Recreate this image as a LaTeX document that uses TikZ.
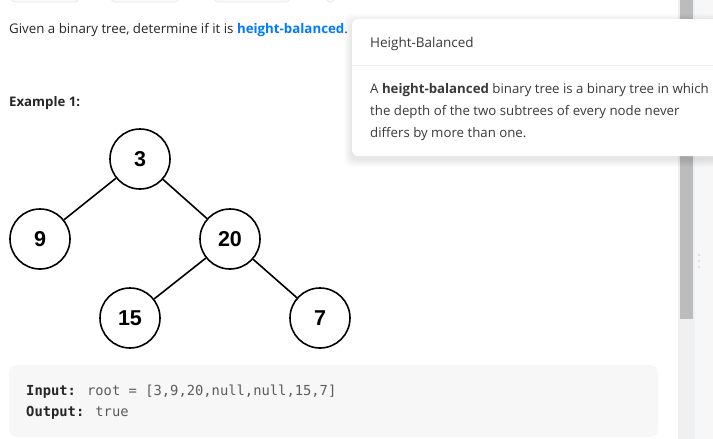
\documentclass[tikz,border=0pt]{standalone}
\usepackage{fontspec}
\setmainfont{Open Sans}
\newfontfamily\treefont{Liberation Sans}
\newfontfamily\codefont{DejaVu Sans Mono}
\definecolor{txtdark}{HTML}{262626}
\definecolor{linkblue}{HTML}{007AFF}
\definecolor{popuptxt}{HTML}{3A3A3A}
\definecolor{sepline}{HTML}{EBEBEB}
\definecolor{codebg}{HTML}{F7F7F7}
\definecolor{codegray}{HTML}{5C5C5C}
\definecolor{track}{HTML}{F0F0F0}
\definecolor{thumb}{HTML}{BCBCBC}
\definecolor{rail}{HTML}{F5F6F8}
\tikzset{
  treenode/.style={circle, draw=black, line width=1.6pt, fill=white, minimum size=60pt, inner sep=0pt, font=\treefont\bfseries\fontsize{21.5}{24}\selectfont},
  treeedge/.style={line width=1.6pt, black},
  bodytxt/.style={anchor=base west, inner sep=0pt, text=txtdark, font=\fontsize{13.3}{16}\selectfont},
  popupbody/.style={anchor=base west, inner sep=0pt, text=popuptxt, font=\fontsize{13.25}{16}\selectfont},
  codetxt/.style={anchor=base west, inner sep=0pt, text=codegray, font=\codefont\fontsize{13.8}{16}\selectfont},
  pill/.style={draw=black!8, fill=black!2, rounded corners=6pt, line width=0.8pt}
}
\begin{document}
\begin{tikzpicture}[x=1pt,y=-1pt]
\useasboundingbox (0,0) rectangle (713,439);
\fill[white] (0,0) rectangle (713,439);
% top partial pills
\draw[pill] (10,-12) rectangle (80,2);
\draw[pill] (110,-12) rectangle (180,2);
\draw[pill] (213,-12) rectangle (291,2);
\draw[pill] (325,-12) rectangle (336,2);
% scrollbar
\fill[track] (678,0) rectangle (695,439);
\fill[thumb] (680,0) rectangle (693,319);
\fill[rail] (695,0) rectangle (703,439);
\fill[black!3] (703,0) rectangle (713,439);
\foreach \yy in {255,261,267} \fill[black!12] (697.5,\yy-1) rectangle (699.5,\yy+1);
% header text
\node[bodytxt] (intro) at (9,33) {Given a binary tree, determine if it is \textcolor{linkblue}{\bfseries height-balanced}.};
\node[bodytxt, font=\bfseries\fontsize{13.2}{16}\selectfont] (ex1) at (9,106) {Example 1:};
% tree
\node[treenode] (n3) at (140,159) {3};
\node[treenode] (n9) at (40,239) {9};
\node[treenode] (n20) at (230,239) {20};
\node[treenode] (n15) at (130,318) {15};
\node[treenode] (n7) at (320,318) {7};
\draw[treeedge] (n3) -- (n9);
\draw[treeedge] (n3) -- (n20);
\draw[treeedge] (n20) -- (n15);
\draw[treeedge] (n20) -- (n7);
% code box
\fill[codebg, rounded corners=8pt] (9,365) rectangle (658,437);
\node[codetxt] (inp) at (26,395) {\textcolor{txtdark}{\bfseries Input:} root = [3,9,20,null,null,15,7]};
\node[codetxt] (outp) at (26,416) {\textcolor{txtdark}{\bfseries Output:} true};
% popup shadow
\foreach \i in {1,...,8}
  \fill[black, opacity=0.012, rounded corners=8pt] (352-\i,19-\i+3) rectangle (740,156+\i+3);
% popup card
\fill[white, rounded corners=6pt] (352,19) rectangle (740,156);
\draw[sepline, line width=1pt] (352,65) -- (713,65);
\node[popupbody, font=\fontsize{13.5}{16}\selectfont] (ptitle) at (370,47) {Height-Balanced};
\node[popupbody] (pl1) at (370,93) {A \textbf{height-balanced} binary tree is a binary tree in which};
\node[popupbody] (pl2) at (370,115) {the depth of the two subtrees of every node never};
\node[popupbody] (pl3) at (370,137) {differs by more than one.};
\end{tikzpicture}
\end{document}
